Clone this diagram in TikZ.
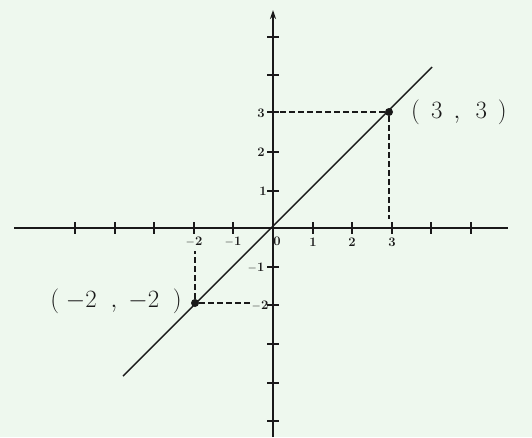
\documentclass[tikz,border=0pt]{standalone}
\usetikzlibrary{arrows.meta}
\definecolor{paper}{RGB}{238,248,238}
\definecolor{ink}{RGB}{25,25,25}
\begin{document}
\begin{tikzpicture}[x=1pt,y=-1pt,
  axis/.style={ink,line width=1.6pt},
  graph/.style={ink,line width=1.4pt},
  guide/.style={ink,line width=1.1pt,dash pattern=on 6pt off 3pt},
  tick/.style={ink,line width=1.4pt},
  ticklab/.style={ink,font=\fontsize{13}{14}\selectfont\bfseries,inner sep=1pt},
  ptlab/.style={ink,font=\fontsize{25}{27}\selectfont,inner sep=0pt},
  dot/.style={circle,fill=ink,inner sep=0pt,minimum size=8pt}]
\fill[paper] (0,0) rectangle (532,437);
\useasboundingbox (0,0) rectangle (532,437);
% axes
\coordinate (xl) at (14,228);
\coordinate (xr) at (508,228);
\coordinate (yb) at (273,437);
\coordinate (yt) at (273,10);
\draw[axis] (xl) -- (xr);
\draw[axis,-{Stealth[length=9pt,width=6pt]}] (yb) -- (yt);
% x ticks
\foreach \xx in {75,115,154,194,233,313,352,392,431,471}
  \draw[tick] (\xx,222) -- (\xx,234);
% y ticks
\foreach \yy in {37,75,112,152,191,267,305,344,383,421}
  \draw[tick] (267,\yy) -- (279,\yy);
% tick labels
\node[ticklab] (xm2) at (194,242) {$\mathbf{-}$2};
\node[ticklab] (xm1) at (233,242) {$\mathbf{-}$1};
\node[ticklab] (x0) at (277,241) {0};
\node[ticklab] (x1) at (313,242) {1};
\node[ticklab] (x2) at (352,242) {2};
\node[ticklab] (x3) at (392,242) {3};
\node[ticklab] (y3) at (261,113) {3};
\node[ticklab] (y2) at (261,152) {2};
\node[ticklab] (y1) at (263,191) {1};
\node[ticklab] (ym1) at (256,268) {$\mathbf{-}$1};
\node[ticklab] (ym2) at (260,306) {$\mathbf{-}$2};
% line y = x
\coordinate (la) at (123,376);
\coordinate (lb) at (432,67);
\draw[graph] (la) -- (lb);
% points
\node[dot] (P) at (389,112) {};
\node[dot] (Q) at (195,303) {};
% guides
\draw[guide] (P) -- (277,112);
\draw[guide] (P) -- (389,219);
\draw[guide] (Q) -- (195,251);
\draw[guide] (Q) -- (251,303);
% point labels
\node[ptlab,anchor=west] (Plab) at (411,112) {$(\;\,3\;\,,\;\,3\;\,)$};
\node[ptlab,anchor=east] (Qlab) at (182,301) {$(\;{-2}\;\;,\;{-2}\;\;)$};
\end{tikzpicture}
\end{document}
